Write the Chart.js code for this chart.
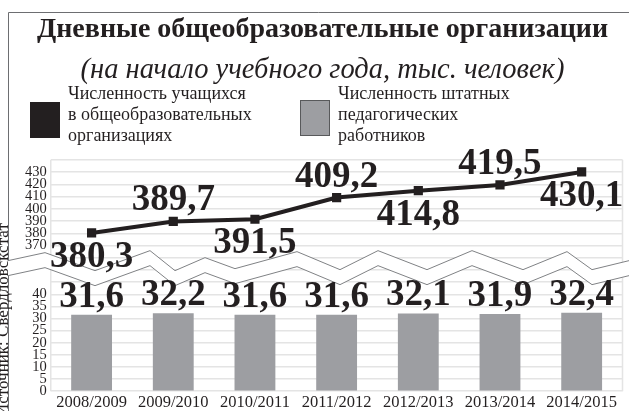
<!DOCTYPE html>
<html>
<head>
<meta charset="utf-8">
<script src="https://cdn.jsdelivr.net/npm/chart.js@4.4.0/dist/chart.umd.min.js"></script>
<style>
  html, body { margin: 0; padding: 0; background: #fff; }
  #wrap { width: 629px; height: 411px; }
</style>
</head>
<body>
<div id="wrap"><canvas id="chart" width="629" height="411"></canvas></div>
<script>
// данные
const years = ['2008/2009', '2009/2010', '2010/2011', '2011/2012', '2012/2013', '2013/2014', '2014/2015'];
const pupils = [380.3, 389.7, 391.5, 409.2, 414.8, 419.5, 430.1];
const teachers = [31.6, 32.2, 31.6, 31.6, 32.1, 31.9, 32.4];
const topTicks = [370, 380, 390, 400, 410, 420, 430];
const bottomTicks = [0, 5, 10, 15, 20, 25, 30, 35, 40];

const ink = '#231f20';
const barGray = '#9d9ea2';
const gridGray = '#e4e4e4';
const serif = '"Liberation Serif", "DejaVu Serif", serif';

const fmt = (v) => v.toFixed(1).replace('.', ',');

// рамка, легенда, источник
const decorPlugin = {
  id: 'decor',
  beforeDraw(chart) {
    const ctx = chart.ctx;
    const area = chart.chartArea;
    ctx.save();
    ctx.fillStyle = '#fff';
    ctx.fillRect(0, 0, chart.width, chart.height);

    ctx.strokeStyle = '#6d6e71';
    ctx.lineWidth = 1;
    ctx.beginPath();
    ctx.moveTo(8.5, 411);
    ctx.lineTo(8.5, 12.5);
    ctx.lineTo(chart.width, 12.5);
    ctx.stroke();

    // легенда
    ctx.fillStyle = ink;
    ctx.fillRect(30, 102, 30, 36);
    ctx.fillStyle = barGray;
    ctx.fillRect(300, 100, 30, 36);
    ctx.strokeStyle = '#58595b';
    ctx.strokeRect(300.5, 100.5, 29, 35);

    ctx.fillStyle = ink;
    ctx.font = '18px ' + serif;
    ctx.textAlign = 'left';
    ctx.textBaseline = 'alphabetic';
    ['Численность учащихся', 'в общеобразовательных', 'организациях'].forEach((t, i) => {
      ctx.fillText(t, 68, 99 + i * 21);
    });
    ['Численность штатных', 'педагогических', 'работников'].forEach((t, i) => {
      ctx.fillText(t, 338, 99 + i * 21);
    });

    // источник
    ctx.translate(8, 416);
    ctx.rotate(-Math.PI / 2);
    ctx.font = '17px ' + serif;
    ctx.fillText('Источник: Свердловскстат', 0, 0);
    ctx.restore();

    // края области графика
    ctx.save();
    ctx.strokeStyle = gridGray;
    ctx.lineWidth = 1.5;
    ctx.beginPath();
    ctx.moveTo(area.left, area.top);
    ctx.lineTo(area.left, area.bottom);
    ctx.moveTo(area.right, area.top);
    ctx.lineTo(area.right, area.bottom);
    ctx.stroke();
    ctx.restore();
  },
  // разрыв оси
  beforeDatasetsDraw(chart) {
    const ctx = chart.ctx;
    const yb = chart.scales.yTop.bottom;
    const pts = [[8, -7], [45, -15], [95, 3], [150, -17], [175, 3], [205, -10], [235, 1], [297, -16],
      [340, 2], [378, -17], [427, 2], [472, -17], [523, 2], [567, -16], [592, 2], [629, -7]];
    const off = 15;
    ctx.save();
    ctx.fillStyle = '#fff';
    ctx.beginPath();
    pts.forEach(([x, y], i) => (i ? ctx.lineTo(x, yb + y) : ctx.moveTo(x, yb + y)));
    for (let i = pts.length - 1; i >= 0; i--) ctx.lineTo(pts[i][0], yb + pts[i][1] + off);
    ctx.closePath();
    ctx.fill();
    ctx.strokeStyle = '#808285';
    ctx.lineWidth = 1;
    [0, off].forEach((d) => {
      ctx.beginPath();
      pts.forEach(([x, y], i) => (i ? ctx.lineTo(x, yb + y + d) : ctx.moveTo(x, yb + y + d)));
      ctx.stroke();
    });
    ctx.restore();
  },
  // подписи значений
  afterDatasetsDraw(chart) {
    const ctx = chart.ctx;
    ctx.save();
    ctx.fillStyle = ink;
    ctx.font = 'bold 37px ' + serif;
    ctx.textAlign = 'center';
    ctx.textBaseline = 'alphabetic';
    chart.getDatasetMeta(1).data.forEach((bar, i) => {
      ctx.fillText(fmt(teachers[i]), bar.x, bar.y - 8);
    });
    chart.getDatasetMeta(0).data.forEach((pt, i) => {
      const y = i % 2 === 0 ? pt.y + 34 : pt.y - 11;
      ctx.fillText(fmt(pupils[i]), pt.x, y);
    });
    ctx.restore();
  }
};

const ctx = document.getElementById('chart').getContext('2d');
const chart = new Chart(ctx, {
  type: 'bar',
  data: {
    labels: years,
    datasets: [
      {
        type: 'line',
        label: 'Численность учащихся в общеобразовательных организациях',
        data: pupils,
        yAxisID: 'yTop',
        borderColor: ink,
        backgroundColor: ink,
        borderWidth: 4,
        pointStyle: 'rect',
        pointRadius: 6.5,
        pointBackgroundColor: ink,
        pointBorderWidth: 0,
        tension: 0,
        order: 0,
      },
      {
        type: 'bar',
        label: 'Численность штатных педагогических работников',
        data: teachers,
        yAxisID: 'y',
        backgroundColor: barGray,
        borderWidth: 0,
        barPercentage: 0.5,
        categoryPercentage: 1,
        order: 1,
      },
    ],
  },
  options: {
    responsive: false,
    animation: false,
    devicePixelRatio: 1,
    layout: { padding: { left: 21, right: 5, top: 0, bottom: -4 } },
    plugins: {
      legend: { display: false },
      tooltip: { enabled: false },
      title: {
        display: true,
        text: 'Дневные общеобразовательные организации',
        color: ink,
        font: { family: serif, size: 28, weight: 'bold' },
        padding: { top: 13, bottom: 0 },
      },
      subtitle: {
        display: true,
        text: '(на начало учебного года, тыс. человек)',
        color: ink,
        font: { family: serif, size: 28.5, style: 'italic' },
        padding: { top: 7, bottom: 72 },
      },
    },
    scales: {
      x: {
        offset: true,
        grid: { display: false, drawTicks: false },
        border: { display: false },
        ticks: { color: ink, font: { family: serif, size: 16.5 }, padding: 2, maxRotation: 0, autoSkip: false },
      },
      y: {
        position: 'left',
        stack: 'split',
        stackWeight: 126,
        min: 0,
        max: 51,
        afterBuildTicks: (scale) => {
          scale.ticks = bottomTicks.concat([45, 50]).map((v) => ({ value: v }));
        },
        grid: { color: gridGray, lineWidth: 1.5, drawTicks: false },
        border: { display: false },
        ticks: {
          autoSkip: false,
          padding: 4,
          color: ink,
          font: { family: serif, size: 14.5 },
          callback: (v) => (bottomTicks.includes(v) ? v : ''),
        },
      },
      yTop: {
        position: 'left',
        stack: 'split',
        stackWeight: 110,
        min: 352,
        max: 440,
        afterBuildTicks: (scale) => {
          scale.ticks = [360].concat(topTicks, [440]).map((v) => ({ value: v }));
        },
        grid: { color: gridGray, lineWidth: 1.5, drawTicks: false },
        border: { display: false },
        ticks: {
          autoSkip: false,
          padding: 4,
          color: ink,
          font: { family: serif, size: 14.5 },
          callback: (v) => (topTicks.includes(v) ? v : ''),
        },
      },
    },
  },
  plugins: [decorPlugin],
});
</script>
</body>
</html>
